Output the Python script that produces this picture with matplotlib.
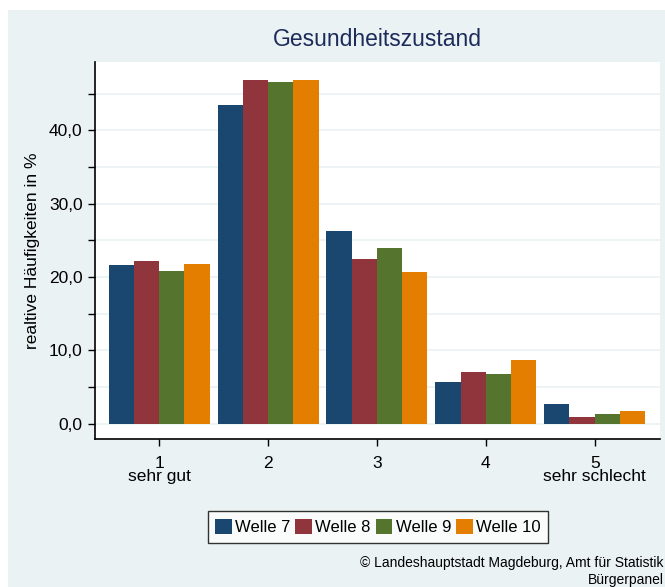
import numpy as np
import matplotlib
matplotlib.use("Agg")
import matplotlib.pyplot as plt
from matplotlib.patches import Rectangle

plt.rcParams['font.family'] = ['Liberation Sans', 'DejaVu Sans']

categories = [1, 2, 3, 4, 5]
cat_labels = ["1\nsehr gut", "2", "3", "4", "5\nsehr schlecht"]
waves = ["Welle 7", "Welle 8", "Welle 9", "Welle 10"]
welle7 = [21.6, 43.5, 26.2, 5.7, 2.7]
welle8 = [22.2, 46.9, 22.5, 7.1, 0.95]
welle9 = [20.8, 46.6, 24.0, 6.8, 1.35]
welle10 = [21.7, 46.8, 20.7, 8.7, 1.65]
colors = ["#1a476f", "#90353b", "#55752f", "#e37e00"]

bg = "#eaf2f3"
W, H = 665, 587
fig = plt.figure(figsize=(6.65, 5.87), dpi=100)
fig.patch.set_facecolor("white")
# light background panel (leaves thin white strip top/left)
fig.patches.append(Rectangle((8 / W, 0), 1, 1 - 10 / H, transform=fig.transFigure,
                             facecolor=bg, edgecolor="none", zorder=-10))

ax = fig.add_axes([95 / W, (H - 439) / H, (660 - 95) / W, (439 - 62) / H])
ax.set_zorder(1)
ax.set_facecolor("white")

x = np.array(categories, dtype=float)
bw = 0.232
series = [welle7, welle8, welle9, welle10]
for i, (vals, c, name) in enumerate(zip(series, colors, waves)):
    ax.bar(x + (i - 1.5) * bw, vals, width=bw, color=c, label=name, zorder=3)

ax.set_xlim(0.41, 5.6)
ax.set_ylim(-2.1, 49.3)
yt = np.arange(0, 50, 5)
ax.set_yticks(yt)
ax.set_yticklabels([f"{v:.1f}".replace(".", ",") if v % 10 == 0 else "" for v in yt])
ax.set_xticks(x)
ax.set_xticklabels(cat_labels, linespacing=0.9)
ax.tick_params(axis="both", labelsize=12.5, length=5, width=1, color="black")
ax.tick_params(axis="x", pad=7)
ax.tick_params(axis="y", pad=4)
ax.yaxis.grid(True, color=bg, linewidth=1.2, zorder=0)
ax.set_axisbelow(True)

for s in ["top", "right"]:
    ax.spines[s].set_visible(False)
ax.spines["left"].set_linewidth(1.2)
ax.spines["bottom"].set_linewidth(1.2)

ax.set_ylabel("realtive Häufigkeiten in %", fontsize=12.5, labelpad=6)
fig.text(377 / W, 1 - 40 / H, "Gesundheitszustand", ha="center", va="center",
         fontsize=16.5, color="#1c2b5a")

leg = fig.legend(loc="center", bbox_to_anchor=(378 / W, 1 - 527 / H), ncol=4,
                 fontsize=12, frameon=True, fancybox=False, handlelength=1.0,
                 handleheight=1.0, handletextpad=0.2, columnspacing=0.3,
                 borderpad=0.45)
leg.get_frame().set_edgecolor("black")
leg.get_frame().set_linewidth(1.0)

fig.text(664 / W, 1 - 563 / H, "© Landeshauptstadt Magdeburg, Amt für Statistik",
         ha="right", va="center", fontsize=10)
fig.text(664 / W, 1 - 580 / H, "Bürgerpanel", ha="right", va="center", fontsize=10)

fig.savefig("out.png", dpi=100, facecolor=fig.get_facecolor())
